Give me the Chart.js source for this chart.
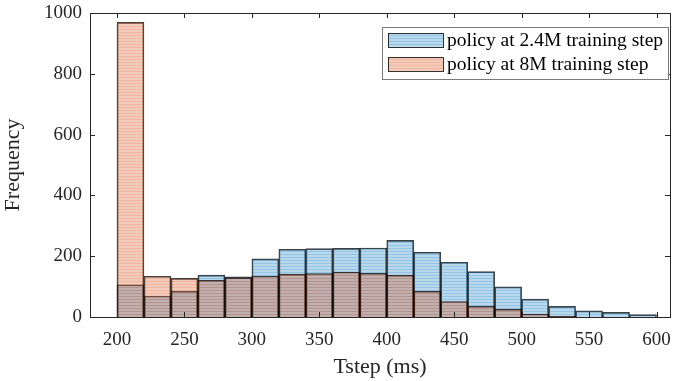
<!DOCTYPE html>
<html>
<head>
<meta charset="utf-8">
<script src="https://cdn.jsdelivr.net/npm/chart.js@4"></script>
<style>
  html, body { margin: 0; padding: 0; background: #fff; }
</style>
</head>
<body>
<canvas id="myChart" width="679" height="381"></canvas>
<script>
// bin centres (bins are 20 ms wide, 200..600)
const binCenters = [210, 230, 250, 270, 290, 310, 330, 350, 370, 390,
                    410, 430, 450, 470, 490, 510, 530, 550, 570, 590];
const counts24M = [106, 69, 85, 138, 132, 191, 223, 225, 226, 227,
                   252, 213, 180, 149, 99, 59, 35, 20, 15, 8];
const counts8M = [969, 134, 127, 121, 129, 135, 141, 143, 148, 144,
                  138, 85, 51, 36, 26, 10, 2, 0, 0, 0];
const xTicks = [200, 250, 300, 350, 400, 450, 500, 550, 600];
const yTicks = [0, 200, 400, 600, 800, 1000];
const seriesLabels = ['policy at 2.4M training step', 'policy at 8M training step'];

const FONT = '"Liberation Serif", "Times New Roman", serif';
const AXIS = '#262626';

// faint horizontal stripes like the exported figure
function stripes(r, g, b, a1, a2) {
  const c = document.createElement('canvas');
  c.width = 4; c.height = 3;
  const x = c.getContext('2d');
  x.fillStyle = `rgba(${r},${g},${b},${a1})`;
  x.fillRect(0, 0, 4, 3);
  x.clearRect(0, 2, 4, 1);
  x.fillStyle = `rgba(${r},${g},${b},${a2})`;
  x.fillRect(0, 2, 4, 1);
  return x.createPattern(c, 'repeat');
}

const framePlugin = {
  id: 'frame',
  afterDatasetsDraw(chart) {
    const { ctx, chartArea: a, scales } = chart;
    ctx.save();
    ctx.strokeStyle = AXIS;
    ctx.lineWidth = 1;
    ctx.beginPath();
    xTicks.forEach(v => {
      const px = Math.round(scales.x.getPixelForValue(v)) + 0.5;
      ctx.moveTo(px, a.bottom); ctx.lineTo(px, a.bottom - 5);
      ctx.moveTo(px, a.top); ctx.lineTo(px, a.top + 5);
    });
    yTicks.forEach(v => {
      const py = Math.round(scales.y.getPixelForValue(v)) + 0.5;
      ctx.moveTo(a.left, py); ctx.lineTo(a.left + 5, py);
      ctx.moveTo(a.right, py); ctx.lineTo(a.right - 5, py);
    });
    ctx.stroke();
    ctx.strokeRect(Math.round(a.left) + 0.5, Math.round(a.top) + 0.5,
                   Math.round(a.right - a.left), Math.round(a.bottom - a.top));
    ctx.restore();
  },
  afterDraw(chart) {
    // legend box in the upper right corner
    const { ctx, chartArea: a } = chart;
    const bx = a.right - 288, by = a.top + 14, bw = 286, bh = 52;
    ctx.save();
    ctx.fillStyle = '#fff';
    ctx.fillRect(bx, by, bw, bh);
    ctx.strokeStyle = '#7a7a7a';
    ctx.lineWidth = 1;
    ctx.strokeRect(bx + 0.5, by + 0.5, bw, bh);
    ctx.font = '19.5px ' + FONT;
    ctx.textBaseline = 'middle';
    chart.data.datasets.forEach((ds, i) => {
      const sy = by + 6 + i * 24;
      ctx.fillStyle = ds.backgroundColor;
      ctx.fillRect(bx + 6, sy, 55, 14);
      ctx.strokeStyle = 'rgba(0,0,0,0.8)';
      ctx.strokeRect(bx + 6.5, sy + 0.5, 55, 14);
      ctx.fillStyle = '#000';
      ctx.fillText(ds.label, bx + 65, sy + 8);
    });
    ctx.restore();
  }
};

document.addEventListener('DOMContentLoaded', function() {
  const ctx = document.getElementById('myChart');

  new Chart(ctx, {
    type: 'bar',
    data: {
      datasets: [{
        label: seriesLabels[0],
        data: binCenters.map((x, i) => ({ x: x, y: counts24M[i] })),
        backgroundColor: stripes(0, 114, 189, 0.28, 0.42),
        borderColor: 'rgba(0,0,0,0.75)',
        borderWidth: 1,
        order: 1
      },
      {
        label: seriesLabels[1],
        data: binCenters.map((x, i) => ({ x: x, y: counts8M[i] })),
        backgroundColor: stripes(217, 83, 25, 0.3, 0.42),
        borderColor: 'rgba(0,0,0,0.75)',
        borderWidth: 1,
        order: 0
      }]
    },
    options: {
      responsive: false,
      animation: false,
      devicePixelRatio: 1,
      grouped: false,
      barPercentage: 1,
      categoryPercentage: 1,
      layout: { padding: { top: 13, right: 9, left: 0, bottom: 0 } },
      plugins: {
        legend: { display: false },
        tooltip: { enabled: false }
      },
      scales: {
        x: {
          type: 'linear',
          min: 180,
          max: 610,
          offset: false,
          grid: { display: false, offset: false, drawTicks: false },
          border: { display: false },
          afterBuildTicks: s => { s.ticks = xTicks.map(v => ({ value: v })); },
          afterFit: s => { s.height = 64; s.paddingLeft = 0; s.paddingRight = 0; },
          ticks: {
            color: AXIS,
            padding: 12,
            maxRotation: 0,
            autoSkip: false,
            callback: v => String(v),
            font: { family: FONT, size: 19 }
          },
          title: {
            display: true,
            text: 'Tstep (ms)',
            color: AXIS,
            padding: { top: 0, bottom: 1 },
            font: { family: FONT, size: 22 }
          }
        },
        y: {
          min: 0,
          max: 1000,
          grid: { display: false, drawTicks: false },
          border: { display: false },
          afterBuildTicks: s => { s.ticks = yTicks.map(v => ({ value: v })); },
          afterFit: s => { s.width = 90; s.paddingTop = 0; s.paddingBottom = 0; },
          ticks: {
            color: AXIS,
            padding: 8,
            callback: v => String(v),
            font: { family: FONT, size: 19 }
          },
          title: {
            display: true,
            text: 'Frequency',
            color: AXIS,
            padding: { top: 0, bottom: 8 },
            font: { family: FONT, size: 22 }
          }
        }
      }
    },
    plugins: [framePlugin]
  });
});
</script>
</body>
</html>
